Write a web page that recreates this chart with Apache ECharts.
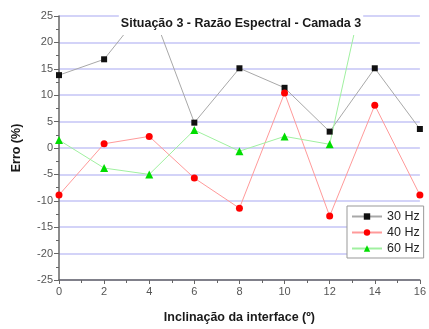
<!DOCTYPE html>
<html>
<head>
<meta charset="utf-8">
<script src="https://cdn.jsdelivr.net/npm/echarts@6/dist/echarts.min.js"></script>
<style>
  html, body { margin: 0; padding: 0; background: #fff; }
  #chart { width: 429px; height: 329px; }
</style>
</head>
<body>
<div id="chart"></div>
<script>
// Inclinação da interface (º)
const angles = [0, 2, 4, 6, 8, 10, 12, 14, 16];
// Erro (%) por frequência
const erro30 = [13.8, 16.8, 27.5, 4.8, 15.1, 11.4, 3.1, 15.1, 3.6];
const erro40 = [-8.9, 0.8, 2.2, -5.7, -11.4, 10.4, -12.9, 8.1, -8.9];
const erro60 = [1.5, -3.8, -5.0, 3.4, -0.6, 2.2, 0.7, 39.4, null];
const seriesNames = ['30 Hz', '40 Hz', '60 Hz'];
const yTicks = [-25, -20, -15, -10, -5, 0, 5, 10, 15, 20, 25];

const pairs = vals => angles.map((a, i) => [a, vals[i]]);
const font = 'Liberation Sans, Arial, sans-serif';

const chart = echarts.init(document.getElementById('chart'), null, { renderer: 'canvas' });

function lineSeries(name, vals, lineColor, markColor, symbol, size) {
  return {
    name: name,
    type: 'line',
    data: pairs(vals),
    clip: true,
    symbol: symbol,
    symbolSize: size,
    showAllSymbol: true,
    connectNulls: false,
    lineStyle: { color: lineColor, width: 1 },
    itemStyle: { color: markColor, borderWidth: 0 },
    emphasis: { disabled: true },
    z: 3
  };
}

chart.setOption({
  animation: false,
  backgroundColor: '#fff',
  textStyle: { fontFamily: font },
  title: {
    text: 'Situação 3 - Razão Espectral - Camada 3',
    left: 239,
    textAlign: 'center',
    top: 14,
    backgroundColor: '#fff',
    padding: [3, 2, 5, 2],
    textStyle: { fontFamily: font, fontSize: 12.5, fontWeight: 'bold', color: '#1a1a1a' },
    z: 10
  },
  legend: {
    orient: 'vertical',
    left: 347,
    top: 206,
    width: 74,
    padding: [4, 4, 3, 4],
    itemGap: 3,
    itemWidth: 30,
    itemHeight: 8,
    backgroundColor: '#fff',
    borderColor: '#999',
    borderWidth: 1,
    borderRadius: 0,
    textStyle: { fontFamily: font, fontSize: 12.5, color: '#222', padding: [0, 0, 0, 0] },
    data: seriesNames,
    z: 10
  },
  grid: { left: 59, right: 3, top: 16, bottom: 42, containLabel: false },
  xAxis: {
    type: 'value',
    min: 0,
    max: 16,
    interval: 2,
    name: 'Inclinação da interface (º)',
    nameLocation: 'middle',
    nameGap: 31,
    nameTextStyle: { fontFamily: font, fontSize: 12.5, fontWeight: 'bold', color: '#1a1a1a' },
    axisLine: { onZero: false, lineStyle: { color: '#666', width: 1.5 } },
    axisTick: { show: true, inside: false, length: 4, lineStyle: { color: '#666' } },
    minorTick: { show: true, splitNumber: 2, length: 3, lineStyle: { color: '#666' } },
    axisLabel: { fontFamily: font, fontSize: 11, color: '#555', margin: 6 },
    splitLine: { show: false }
  },
  yAxis: {
    type: 'value',
    min: yTicks[0],
    max: yTicks[yTicks.length - 1],
    interval: 5,
    name: 'Erro (%)',
    nameLocation: 'middle',
    nameGap: 36,
    nameRotate: 90,
    nameTextStyle: { fontFamily: font, fontSize: 12.5, fontWeight: 'bold', color: '#1a1a1a' },
    axisLine: { show: true, lineStyle: { color: '#666', width: 1.5 } },
    axisTick: { show: true, inside: false, length: 5, lineStyle: { color: '#666' } },
    minorTick: { show: true, splitNumber: 2, length: 3, lineStyle: { color: '#666' } },
    axisLabel: { fontFamily: font, fontSize: 11, color: '#555', margin: 6 },
    splitLine: {
      show: true,
      lineStyle: { color: '#c4c4f6', width: 1.5 }
    }
  },
  series: [
    lineSeries(seriesNames[0], erro30, '#a8a8a8', '#111', 'rect', 6),
    lineSeries(seriesNames[1], erro40, '#ff9a9a', '#ff0000', 'circle', 7),
    lineSeries(seriesNames[2], erro60, '#a0f0a0', '#00dd00', 'triangle', 8)
  ]
});
</script>
</body>
</html>
